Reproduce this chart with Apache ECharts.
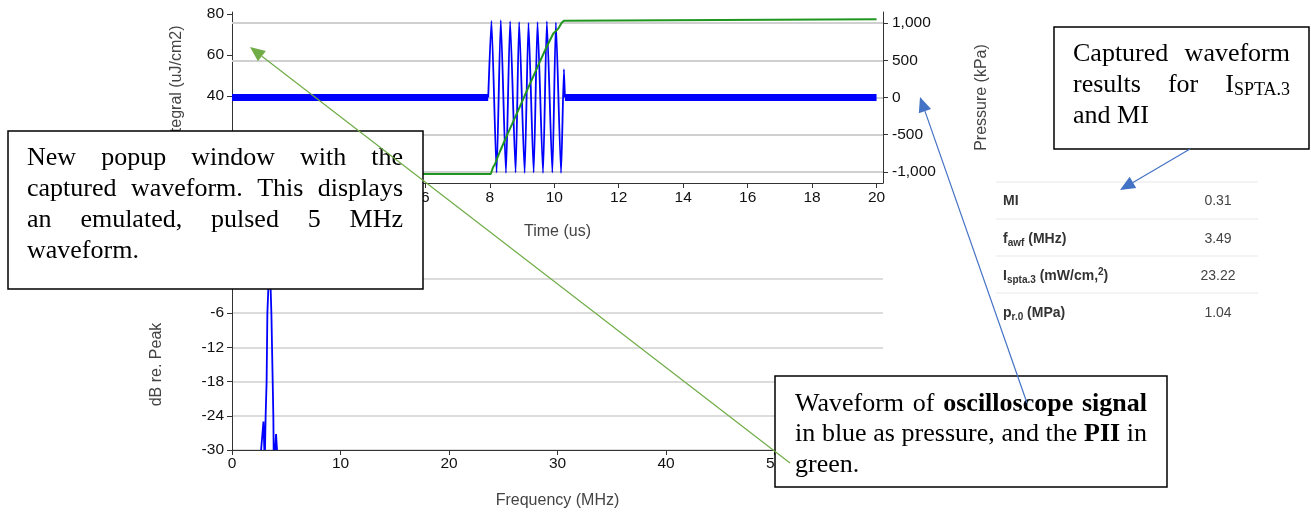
<!DOCTYPE html>
<html>
<head>
<meta charset="utf-8">
<script src="https://cdn.jsdelivr.net/npm/echarts@6/dist/echarts.min.js"></script>
<style>
html, body { margin: 0; padding: 0; background: #fff; }
#main { width: 1311px; height: 513px; }
</style>
</head>
<body>
<div id="main"></div>
<script>
// tick values
var integralTicks = [0, 20, 40, 60, 80];
var pressureTicks = [-1000, -500, 0, 500, 1000];

// blue: noisy baseline of the scope signal (kPa), gap where the pulse is
var noiseTime = [0, 7.95, 9.1, 10.33, 20];
var noiseKpa = [0, 0, null, 0, 0];

// blue: the pulse itself (kPa)
var pulseTime = [7.95, 8.05, 8.21, 8.34, 8.50, 8.63, 8.80, 8.91, 9.08, 9.20, 9.36, 9.48, 9.65, 9.77, 9.94, 10.05, 10.21, 10.30, 10.33];
var pulseKpa = [0, 1030, -1010, 1040, -1015, 1025, -1010, 1015, -1015, 1005, -1010, 1015, -1015, 1025, -1010, 1010, -1015, 380, 0];

// green: PII integral (uJ/cm2)
var piiTime = [0, 8.03, 8.10, 8.15, 8.31, 8.50, 8.70, 8.93, 9.15, 9.35, 9.55, 9.75, 9.97, 10.13, 10.23, 10.30, 20];
var piiValue = [1.7, 1.7, 5.0, 6.2, 12.6, 19.5, 26.5, 34.6, 42.5, 49.5, 56.6, 63.5, 70.5, 73.0, 75.7, 76.7, 77.4];

// spectrum (dB re. peak), lobes split by gaps
var specFreq = [2.68, 2.90, 2.98, 3.00, 3.04, 3.10, 3.19, 3.26, 3.35, 3.45, 3.56, 3.63, 3.75, 3.81, 3.84, 3.90, 3.97, 4.06, 4.15];
var specDb = [-30, -25.0, -30, null, -30, -24, -18, -6, -1.6, 0, -1.6, -6, -18, -24, -30, null, -30, -27.2, -30];

// results table
var tableNames = ['{b|MI}', '{b|f}{s|awf}{b| (MHz)}', '{b|I}{s|spta.3}{b| (mW/cm,}{p|2}{b|)}', '{b|p}{s|r.0}{b| (MPa)}'];
var tableValues = ['0.31', '3.49', '23.22', '1.04'];

// callout texts (*word* = bold, A_B = B as subscript)
var note1 = ['New popup window with the', 'captured waveform. This displays', 'an emulated, pulsed 5 MHz', 'waveform.'];
var note2 = ['Captured waveform', 'results for I_SPTA.3', 'and MI'];
var note3 = ['Waveform of *oscilloscope* *signal*', 'in blue as pressure, and the *PII* in', 'green.'];

function pairs(xs, ys) {
    return xs.map(function (x, i) { return [x, ys[i]]; });
}

var measureCtx = document.createElement('canvas').getContext('2d');
function serif(size, bold) {
    return (bold ? 'bold ' : '') + size + 'px "Liberation Serif"';
}
function textWidth(t, size, bold) {
    measureCtx.font = serif(size, bold);
    return measureCtx.measureText(t).width;
}
function parseWord(w) {
    var bold = false;
    if (w.charAt(0) === '*') { bold = true; w = w.replace(/\*/g, ''); }
    var k = w.indexOf('_');
    if (k > 0) return [{t: w.slice(0, k), b: bold}, {t: w.slice(k + 1), b: bold, sub: true}];
    return [{t: w, b: bold}];
}

// box with justified lines, like the word processor did it
function callout(box, lines, firstY, step) {
    var els = [{
        type: 'rect', z: 100,
        shape: {x: box.x, y: box.y, width: box.w, height: box.h},
        style: {fill: '#fff', stroke: '#000', lineWidth: 1.5}
    }];
    lines.forEach(function (line, i) {
        var words = line.split(' ').map(parseWord);
        var widths = words.map(function (parts) {
            return parts.reduce(function (s, p) { return s + textWidth(p.t, p.sub ? 18 : 26, p.b); }, 0);
        });
        var total = widths.reduce(function (a, b) { return a + b; }, 0);
        var last = i === lines.length - 1;
        var gap = (!last && words.length > 1) ? (box.right - box.left - total) / (words.length - 1) : textWidth(' ', 26, false);
        var x = box.left;
        var y = firstY + i * step;
        words.forEach(function (parts, k) {
            var px = x;
            parts.forEach(function (p) {
                var size = p.sub ? 18 : 26;
                els.push({
                    type: 'text', z: 110, x: px, y: p.sub ? y + 5 : y,
                    style: {
                        text: p.t, font: serif(size, p.b), fill: '#000',
                        textAlign: 'left', align: 'left', textVerticalAlign: 'middle', verticalAlign: 'middle'
                    }
                });
                px += textWidth(p.t, size, p.b);
            });
            x += widths[k] + gap;
        });
    });
    return els;
}

function arrow(x1, y1, x2, y2, color) {
    var dx = x2 - x1, dy = y2 - y1;
    var len = Math.sqrt(dx * dx + dy * dy);
    var ux = dx / len, uy = dy / len;
    var hl = 15, hw = 6.5;
    var bx = x2 - ux * hl, by = y2 - uy * hl;
    return [
        {type: 'line', z: 120, shape: {x1: x1, y1: y1, x2: bx, y2: by}, style: {stroke: color, lineWidth: 1.2}},
        {type: 'polygon', z: 120, shape: {points: [[x2, y2], [bx - uy * hw, by + ux * hw], [bx + uy * hw, by - ux * hw]]}, style: {fill: color}}
    ];
}

function tableGraphics() {
    var els = [];
    var lineY = [182, 219, 256, 293];
    var rowY = [201, 239, 276, 313];
    var rich = {
        b: {fontSize: 14, fontWeight: 'bold', fontFamily: 'Liberation Sans', fill: '#333', lineHeight: 18},
        s: {fontSize: 10, fontWeight: 'bold', fontFamily: 'Liberation Sans', fill: '#333', lineHeight: 10, verticalAlign: 'bottom'},
        p: {fontSize: 10, fontWeight: 'bold', fontFamily: 'Liberation Sans', fill: '#333', lineHeight: 10, verticalAlign: 'top'}
    };
    lineY.forEach(function (y) {
        els.push({type: 'line', z: 90, shape: {x1: 996, y1: y, x2: 1258, y2: y}, style: {stroke: '#e8e8e8', lineWidth: 1}});
    });
    tableNames.forEach(function (name, i) {
        els.push({
            type: 'text', z: 90, x: 1003, y: rowY[i],
            style: {text: name, rich: rich, textAlign: 'left', align: 'left', textVerticalAlign: 'middle', verticalAlign: 'middle'}
        });
        els.push({
            type: 'text', z: 90, x: 1218, y: rowY[i],
            style: {
                text: tableValues[i], font: '14px "Liberation Sans"', fill: '#444',
                textAlign: 'center', align: 'center', textVerticalAlign: 'middle', verticalAlign: 'middle'
            }
        });
    });
    return els;
}

var labelFont = {fontFamily: 'Liberation Sans', fontSize: 15.5, color: '#111'};
var nameFont = {fontFamily: 'Liberation Sans', fontSize: 16, color: '#444'};
var axisLine = {show: true, onZero: false, lineStyle: {color: '#333', width: 1}};

function tick(values) {
    var t = {show: true, length: 5, lineStyle: {color: '#333'}};
    if (values) t.customValues = values;
    return t;
}
function label(extra) {
    return Object.assign({}, labelFont, extra);
}

var myChart = echarts.init(document.getElementById('main'));

var graphics = []
    .concat(tableGraphics())
    .concat(callout({x: 8, y: 131, w: 415, h: 158, left: 27, right: 403}, note1, 158, 31))
    .concat(callout({x: 1054, y: 27, w: 255, h: 122, left: 1073, right: 1290}, note2, 54, 31))
    .concat(callout({x: 775, y: 376, w: 392, h: 111, left: 795, right: 1147}, note3, 404, 30.5))
    .concat(arrow(790, 463, 250, 47, '#70ad47'))
    .concat(arrow(1027, 403, 920, 97, '#4472c4'))
    .concat(arrow(1190, 149, 1120, 190, '#4472c4'));

var option = {
    animation: false,
    backgroundColor: '#fff',
    grid: [
        {left: 232, right: 428, top: 12, height: 171},
        {left: 232, right: 428, top: 279, height: 171}
    ],
    xAxis: [
        {
            type: 'value', gridIndex: 0, min: 0, max: 20.2, interval: 2,
            name: 'Time (us)', nameLocation: 'middle', nameGap: 41, nameTextStyle: nameFont,
            axisLine: axisLine, axisTick: tick(), splitLine: {show: false},
            axisLabel: label({margin: 7, showMaxLabel: false})
        },
        {
            type: 'value', gridIndex: 1, min: 0, max: 60, interval: 10,
            name: 'Frequency (MHz)', nameLocation: 'middle', nameGap: 43, nameTextStyle: nameFont,
            axisLine: axisLine, axisTick: tick(), splitLine: {show: false},
            axisLabel: label({margin: 6})
        }
    ],
    yAxis: [
        {
            type: 'value', gridIndex: 0, position: 'left', min: -2.7, max: 81,
            name: 'PII Integral (uJ/cm2)', nameLocation: 'middle', nameGap: 47, nameRotate: 90, nameTextStyle: nameFont,
            axisLine: axisLine, axisTick: tick(integralTicks), splitLine: {show: false},
            axisLabel: label({margin: 8, customValues: integralTicks})
        },
        {
            type: 'value', gridIndex: 0, position: 'right', min: -1150, max: 1150,
            name: 'Pressure (kPa)', nameLocation: 'middle', nameGap: 91, nameRotate: 90, nameTextStyle: nameFont,
            axisLine: axisLine, axisTick: tick(pressureTicks), splitLine: {show: false},
            axisLabel: label({
                margin: 9, customValues: pressureTicks,
                formatter: function (v) { return echarts.format.addCommas(v); }
            })
        },
        {
            type: 'value', gridIndex: 1, min: -30, max: 0, interval: 6,
            name: 'dB re. Peak', nameLocation: 'middle', nameGap: 67, nameRotate: 90, nameTextStyle: nameFont,
            axisLine: axisLine, axisTick: tick(),
            splitLine: {show: true, lineStyle: {color: '#dcdcdc', width: 2}},
            axisLabel: label({margin: 8})
        }
    ],
    series: [
        {
            name: 'noise', type: 'line', xAxisIndex: 0, yAxisIndex: 1, z: 2,
            data: pairs(noiseTime, noiseKpa), showSymbol: false, connectNulls: false,
            lineStyle: {color: '#0000ff', width: 7}, silent: true,
            markLine: {
                silent: true, symbol: 'none', z: 1, label: {show: false},
                lineStyle: {color: '#d0d0d0', width: 2, type: 'solid'},
                emphasis: {disabled: true},
                data: pressureTicks.map(function (v) { return {yAxis: v}; })
            }
        },
        {
            name: 'pulse', type: 'line', xAxisIndex: 0, yAxisIndex: 1, z: 3,
            data: pairs(pulseTime, pulseKpa), showSymbol: false, smooth: 0.2,
            lineStyle: {color: '#0000ff', width: 1.8}, silent: true
        },
        {
            name: 'PII', type: 'line', xAxisIndex: 0, yAxisIndex: 0, z: 4,
            data: pairs(piiTime, piiValue), showSymbol: false,
            lineStyle: {color: '#1f961f', width: 2}, silent: true
        },
        {
            name: 'spectrum', type: 'line', xAxisIndex: 1, yAxisIndex: 2, z: 3,
            data: pairs(specFreq, specDb), showSymbol: false, connectNulls: false,
            lineStyle: {color: '#0000ff', width: 1.8}, silent: true
        }
    ],
    graphic: graphics
};

myChart.setOption(option);
</script>
</body>
</html>
